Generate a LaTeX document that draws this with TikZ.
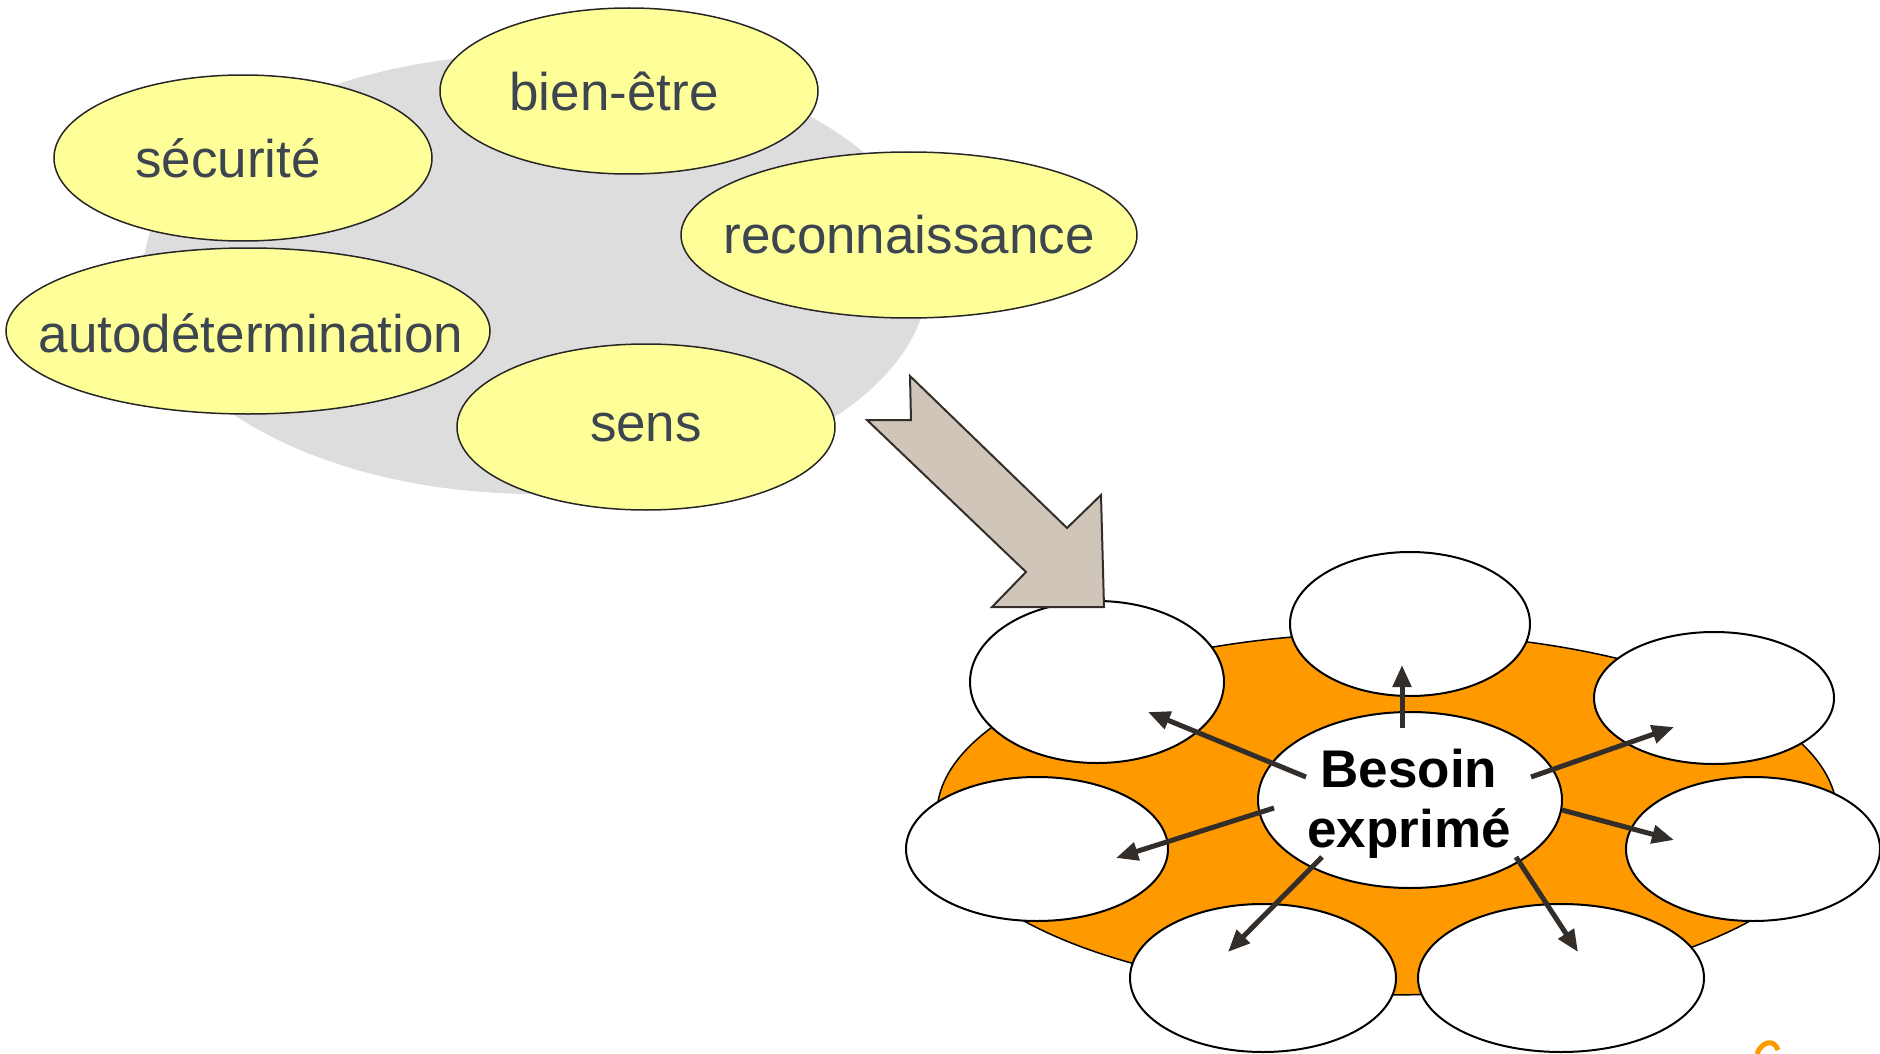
\documentclass[tikz,border=0pt]{standalone}
\usepackage{fontspec}
\setmainfont{Liberation Sans}
\usetikzlibrary{shapes.geometric,arrows.meta}
\definecolor{yel}{HTML}{FFFF99}
\definecolor{grayblob}{HTML}{DDDDDD}
\definecolor{orng}{HTML}{FF9900}
\definecolor{beige}{HTML}{CFC5B8}
\definecolor{txtgray}{HTML}{3D4550}
\definecolor{arrdark}{HTML}{332E2A}
\tikzset{
  yellowell/.style={ellipse, draw=black!85, line width=1.5pt, fill=yel, inner sep=0pt},
  needlbl/.style={inner sep=0pt, text=txtgray, font=\fontsize{53}{60}\selectfont},
  whiteell/.style={ellipse, draw=black, line width=2pt, fill=white, inner sep=0pt},
  spoke/.style={draw=arrdark, line width=5pt, -{Triangle[length=22pt,width=18pt]}},
}
\begin{document}
\begin{tikzpicture}[x=1pt,y=-1pt]
\useasboundingbox (0,0) rectangle (1880,1054);
% grey background blob
\fill[grayblob] (536,274) ellipse [x radius=393, y radius=220];
% yellow needs
\node[yellowell, minimum width=378, minimum height=166] (bien) at (629,91) {};
\node[needlbl] (bienl) at (614,91) {bien-être};
\node[yellowell, minimum width=378, minimum height=166] (secu) at (243,158) {};
\node[needlbl] (secul) at (228,158) {sécurité};
\node[yellowell, minimum width=456, minimum height=166] (reco) at (909,235) {};
\node[needlbl] (recol) at (909,235) {reconnaissance};
\node[yellowell, minimum width=484, minimum height=166] (auto) at (248,331) {};
\node[needlbl] (autol) at (251,333) {autodétermination};
\node[yellowell, minimum width=378, minimum height=166] (sens) at (646,427) {};
\node[needlbl] (sensl) at (646,427) {sens};
% orange disc
\node[ellipse, draw=black, line width=1.5pt, fill=orng, minimum width=900, minimum height=362, inner sep=0pt] (disc) at (1387,814) {};
% outer white ellipses
\node[whiteell, minimum width=254, minimum height=162] (w1) at (1097,682) {};
\node[whiteell, minimum width=240, minimum height=144] (w2) at (1410,624) {};
\node[whiteell, minimum width=240, minimum height=132] (w3) at (1714,698) {};
\node[whiteell, minimum width=254, minimum height=144] (w4) at (1753,849) {};
\node[whiteell, minimum width=286, minimum height=148] (w5) at (1561,978) {};
\node[whiteell, minimum width=266, minimum height=148] (w6) at (1263,978) {};
\node[whiteell, minimum width=262, minimum height=144] (w7) at (1037,849) {};
% centre
\node[whiteell, minimum width=304, minimum height=176] (centre) at (1410,800) {};
\node[font=\fontsize{53}{60}\selectfont\bfseries, align=center, inner sep=0pt] (lbl) at (1409,804) {Besoin\\exprimé};
% spoke coordinates
\coordinate (s2) at (1402,728); \coordinate (e2) at (1402,665);
\coordinate (s1) at (1306,777); \coordinate (e1) at (1148,712);
\coordinate (s3) at (1531,777); \coordinate (e3) at (1674,727);
\coordinate (s7) at (1274,808); \coordinate (e7) at (1116,858);
\coordinate (s4) at (1562,810); \coordinate (e4) at (1674,840);
\coordinate (s6) at (1322,857); \coordinate (e6) at (1228,952);
\coordinate (s5) at (1516,857); \coordinate (e5) at (1578,952);
\foreach \i in {1,...,7} { \draw[spoke] (s\i) -- (e\i); }
% big beige arrow
\draw[fill=beige, draw=arrdark, line width=2pt, line join=miter]
  (910,376) -- (911,420) -- (867,420) -- (1026,572) -- (992,607) -- (1104,607)
  -- (1101,495) -- (1067,528) -- cycle;
% small orange mark at bottom right
\draw[orng, line width=5pt] (1757,1054) .. controls (1761,1042) and (1774,1038) .. (1778,1050);
\end{tikzpicture}
\end{document}
